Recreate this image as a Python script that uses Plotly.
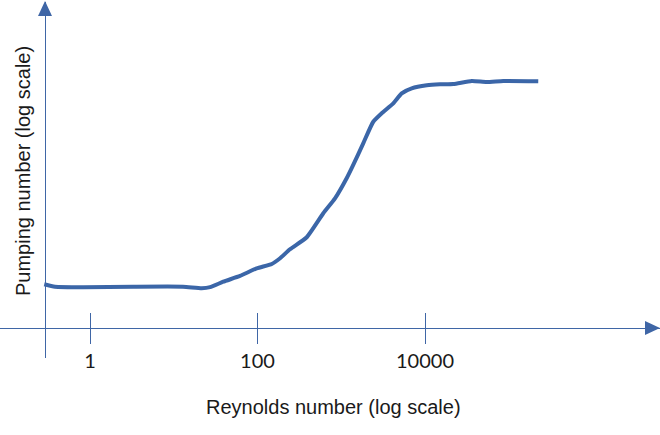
"""
Pumping number vs Reynolds number — schematic log-log sketch.
"""

import plotly.graph_objects as go

# ── Data ─────────────────────────────────────────────────────────────────────

reynolds = [
    0.284, 0.382, 0.832, 3.26, 12.9, 21.6, 27.1, 39.0, 61.8, 97.8,
    148, 186, 244, 387, 610, 842, 1160, 1390, 1830, 2410,
    3040, 4180, 5270, 6940, 10500, 15100, 21800, 36100, 54500, 86100,
    225000,
]
pumping = [
    0.226, 0.216, 0.214, 0.216, 0.216, 0.210, 0.214, 0.237, 0.264, 0.304,
    0.330, 0.367, 0.434, 0.543, 0.849, 1.12, 1.63, 2.09, 3.13, 4.68,
    5.48, 6.60, 7.95, 8.73, 9.23, 9.40, 9.46, 10.0, 9.81, 10.0,
    9.95,
]

tick_vals = [1, 100, 10000]
tick_text = ["1", "100", "10000"]

x_title = "Reynolds number (log scale)"
y_title = "Pumping number (log scale)"

# ── Style ────────────────────────────────────────────────────────────────────

W, H = 660, 435
BLUE = "#3b66a8"
AXIS = "#3f66a6"
TEXT = "#1a1a1a"


def px(x, y):
    """pixel position -> paper coords"""
    return x / W, 1 - y / H


# arrowheads (paper coords)
def tri(p1, p2, p3):
    pts = [px(*p) for p in (p1, p2, p3)]
    return "M{:.4f},{:.4f} L{:.4f},{:.4f} L{:.4f},{:.4f} Z".format(
        *pts[0], *pts[1], *pts[2])


fig = go.Figure()

fig.add_trace(go.Scatter(
    x=reynolds, y=pumping,
    mode="lines",
    line=dict(color=BLUE, width=4, shape="spline", smoothing=0.5),
    showlegend=False,
    hoverinfo="skip",
))

# second x axis only to draw the upper half of the ticks
fig.add_trace(go.Scatter(x=[None], y=[None], xaxis="x2", showlegend=False))

x_axis_y = px(0, 328)[1]

fig.update_layout(
    width=W, height=H,
    margin=dict(l=0, r=0, t=0, b=0),
    plot_bgcolor="white",
    paper_bgcolor="white",
    xaxis=dict(
        type="log",
        range=[-1.075, 6.806],
        domain=[0, 1],
        anchor="free",
        position=x_axis_y,
        showgrid=False, zeroline=False,
        showline=True, linecolor=AXIS, linewidth=1,
        ticks="outside", ticklen=15, tickwidth=1, tickcolor=AXIS,
        tickvals=tick_vals, ticktext=tick_text,
        tickfont=dict(family="Lato", size=20, color=TEXT),
    ),
    xaxis2=dict(
        type="log",
        range=[-1.075, 6.806],
        overlaying="x",
        anchor="free",
        position=x_axis_y,
        showgrid=False, zeroline=False, showline=False,
        ticks="inside", ticklen=15, tickwidth=1, tickcolor=AXIS,
        tickvals=tick_vals, showticklabels=False,
    ),
    yaxis=dict(
        type="log",
        range=[-1.243, 1.640],
        domain=[px(0, 358)[1], px(0, 2)[1]],
        anchor="free",
        position=45 / W,
        showgrid=False, zeroline=False,
        showline=True, linecolor=AXIS, linewidth=1,
        ticks="", showticklabels=False,
    ),
    shapes=[
        dict(type="path", xref="paper", yref="paper",
             path=tri((660, 328), (645, 321), (645, 335)),
             fillcolor=AXIS, line=dict(width=0)),
        dict(type="path", xref="paper", yref="paper",
             path=tri((45, 1), (38, 16), (52, 16)),
             fillcolor=AXIS, line=dict(width=0)),
    ],
    annotations=[
        dict(text=x_title, xref="paper", yref="paper",
             x=px(333, 0)[0], y=px(0, 407)[1],
             showarrow=False, xanchor="center", yanchor="middle",
             font=dict(family="Liberation Sans", size=20, color=TEXT)),
        dict(text=y_title, xref="paper", yref="paper",
             x=px(23, 0)[0], y=px(0, 171)[1], textangle=-90,
             showarrow=False, xanchor="center", yanchor="middle",
             font=dict(family="Liberation Sans", size=20, color=TEXT)),
    ],
)

# the page's default 8px body margin would shift the figure
fig.write_html(
    "out.html",
    config={"displayModeBar": False},
    post_script="document.body.style.margin='0px';",
)
